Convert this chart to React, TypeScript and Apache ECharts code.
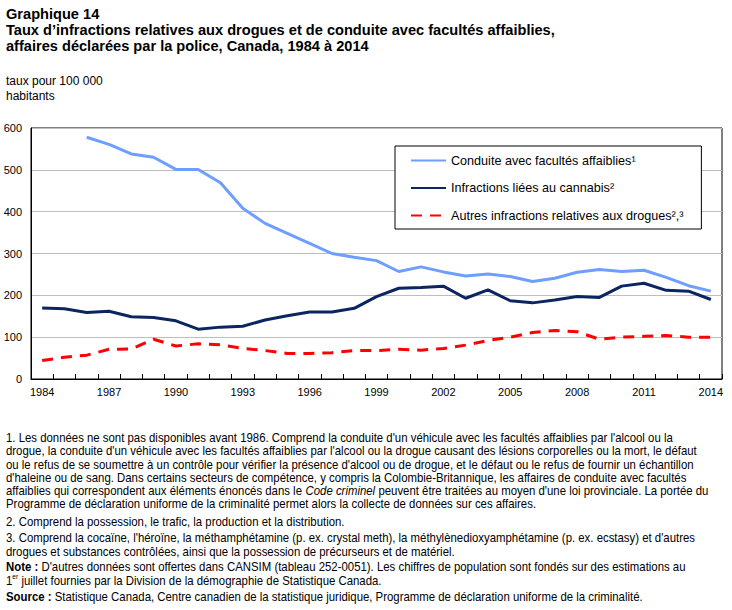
import React, { useEffect, useRef } from "react";
import * as echarts from "echarts";

// Years 1984 to 2014
const years: string[] = [
  "1984", "1985", "1986", "1987", "1988", "1989", "1990", "1991", "1992", "1993",
  "1994", "1995", "1996", "1997", "1998", "1999", "2000", "2001", "2002", "2003",
  "2004", "2005", "2006", "2007", "2008", "2009", "2010", "2011", "2012", "2013", "2014",
];

// Rates per 100,000 population
const conduiteFacultes: (number | null)[] = [
  null, null, 578, 561, 538, 530, 501, 501, 469, 408,
  372, 348, 324, 300, 291, 283, 257, 268, 256, 246,
  251, 245, 233, 241, 255, 262, 257, 260, 243, 223, 210,
];
const cannabis: number[] = [
  170, 168, 159, 162, 149, 147, 139, 119, 124, 126,
  141, 151, 160, 160, 169, 197, 217, 219, 222, 193,
  213, 187, 182, 189, 197, 195, 222, 229, 212, 210, 190,
];
const autresDrogues: number[] = [
  44, 52, 57, 71, 72, 95, 79, 84, 82, 73,
  68, 61, 61, 63, 68, 68, 71, 69, 73, 81,
  92, 100, 111, 116, 113, 95, 100, 102, 104, 100, 100,
];

const seriesNames: string[] = [
  "Conduite avec facultés affaiblies¹",
  "Infractions liées au cannabis²",
  "Autres infractions relatives aux drogues²,³",
];

const titleLines: string[] = [
  "Graphique 14",
  "Taux d’infractions relatives aux drogues et de conduite avec facultés affaiblies,",
  "affaires déclarées par la police, Canada, 1984 à 2014",
];

const unitLines: string[] = ["taux pour 100 000", "habitants"];

const footnoteLines: string[] = [
  "1. Les données ne sont pas disponibles avant 1986. Comprend la conduite d'un véhicule avec les facultés affaiblies par l'alcool ou la",
  "drogue, la conduite d'un véhicule avec les facultés affaiblies par l'alcool ou la drogue causant des lésions corporelles ou la mort, le défaut",
  "ou le refus de se soumettre à un contrôle pour vérifier la présence d'alcool ou de drogue, et le défaut ou le refus de fournir un échantillon",
  "d'haleine ou de sang. Dans certains secteurs de compétence, y compris la Colombie-Britannique, les affaires de conduite avec facultés",
  "affaiblies qui correspondent aux éléments énoncés dans le {i|Code criminel} peuvent être traitées au moyen d'une loi provinciale. La portée du",
  "Programme de déclaration uniforme de la criminalité permet alors la collecte de données sur ces affaires.",
  "2. Comprend la possession, le trafic, la production et la distribution.",
  "3. Comprend la cocaïne, l'héroïne, la méthamphétamine (p. ex. crystal meth), la méthylènedioxyamphétamine (p. ex. ecstasy) et d'autres",
  "drogues et substances contrôlées, ainsi que la possession de précurseurs et de matériel.",
  "{b|Note :} D'autres données sont offertes dans CANSIM (tableau 252-0051). Les chiffres de population sont fondés sur des estimations au",
  "1{sup|er} juillet fournies par la Division de la démographie de Statistique Canada.",
  "{b|Source :} Statistique Canada, Centre canadien de la statistique juridique, Programme de déclaration uniforme de la criminalité.",
];
const footnoteY: number[] = [437, 450.5, 464, 477, 490, 503, 521, 537, 551, 566, 580, 596];

const FONT = "'Liberation Sans', Arial, sans-serif";

export default function App() {
  const ref = useRef<HTMLDivElement>(null);

  useEffect(() => {
    if (!ref.current) return;
    const chart = echarts.init(ref.current, null, { renderer: "svg" });

    const graphics: any[] = [];
    const titleY = [13.5, 29.5, 45.5];
    titleLines.forEach((t, i) => {
      graphics.push({
        type: "text",
        x: 6,
        y: titleY[i],
        style: {
          text: t,
          fontFamily: FONT,
          fontWeight: "bold",
          fontSize: 14.6,
          fill: "#000",
          verticalAlign: "middle",
        },
      });
    });
    unitLines.forEach((t, i) => {
      graphics.push({
        type: "text",
        x: 6,
        y: 81 + i * 15,
        style: { text: t, fontFamily: FONT, fontSize: 12, fill: "#000", verticalAlign: "middle" },
      });
    });
    footnoteLines.forEach((t, i) => {
      graphics.push({
        type: "text",
        x: 6,
        y: footnoteY[i],
        scaleX: 0.95,
        style: {
          text: t,
          fontFamily: FONT,
          fontSize: 12,
          fill: "#000",
          verticalAlign: "middle",
          rich: {
            i: { fontStyle: "italic", fontSize: 12, fontFamily: FONT },
            b: { fontWeight: "bold", fontSize: 12, fontFamily: FONT },
            sup: { fontSize: 7, fontFamily: FONT, padding: [0, 0, 7, 0] },
          },
        },
      });
    });

    chart.setOption({
      animation: false,
      backgroundColor: "#fff",
      textStyle: { fontFamily: FONT },
      grid: {
        left: 31,
        right: 10,
        top: 128,
        bottom: 231,
        show: true,
        borderColor: "#000",
        borderWidth: 1,
        containLabel: false,
      },
      legend: {
        orient: "vertical",
        left: 395,
        top: 146,
        backgroundColor: "#fff",
        borderColor: "#000",
        borderWidth: 1,
        borderRadius: 0,
        padding: [8, 18, 7, 15],
        itemWidth: 35,
        itemHeight: 14,
        itemGap: 14.5,
        itemStyle: { opacity: 0 },
        textStyle: { fontSize: 12.6, color: "#000", fontFamily: FONT },
        data: seriesNames,
      },
      xAxis: {
        type: "category",
        data: years,
        boundaryGap: true,
        axisLine: { lineStyle: { color: "#000", width: 1 } },
        axisTick: { show: true, inside: true, length: 5, interval: 0, lineStyle: { color: "#000" } },
        axisLabel: { interval: 2, color: "#000", fontSize: 11, margin: 7 },
        splitLine: { show: false },
      },
      yAxis: {
        type: "value",
        min: 0,
        max: 600,
        interval: 100,
        axisLine: { show: true, lineStyle: { color: "#000", width: 1 } },
        axisTick: { show: false },
        axisLabel: { color: "#000", fontSize: 11, margin: 9 },
        splitLine: { show: true, lineStyle: { color: "#BDBDBD", width: 1 } },
      },
      series: [
        {
          name: seriesNames[0],
          type: "line",
          data: conduiteFacultes,
          symbol: "none",
          connectNulls: false,
          lineStyle: { color: "#6E9EFF", width: 3 },
          itemStyle: { color: "#6E9EFF" },
          z: 3,
        },
        {
          name: seriesNames[1],
          type: "line",
          data: cannabis,
          symbol: "none",
          lineStyle: { color: "#0B2560", width: 3 },
          itemStyle: { color: "#0B2560" },
          z: 4,
        },
        {
          name: seriesNames[2],
          type: "line",
          data: autresDrogues,
          symbol: "none",
          lineStyle: { color: "#FF0000", width: 3, type: [11, 8] },
          itemStyle: { color: "#FF0000" },
          z: 5,
        },
      ],
      graphic: graphics,
    });

    return () => chart.dispose();
  }, []);

  return (
    <div
      ref={ref}
      style={{ position: "absolute", left: 0, top: 0, width: 732, height: 610 }}
    />
  );
}
